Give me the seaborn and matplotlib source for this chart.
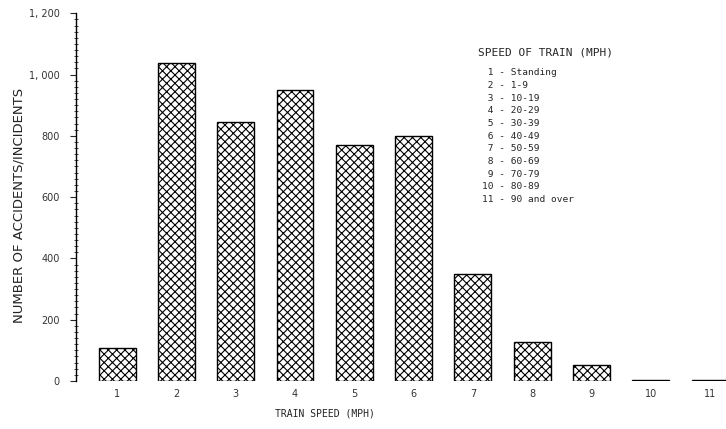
import numpy as np
import pandas as pd
import matplotlib
matplotlib.use('Agg')
import matplotlib.pyplot as plt
from matplotlib.ticker import MultipleLocator, FuncFormatter
import seaborn as sns

sns.set_style('white')
plt.rcParams['font.family'] = ['DejaVu Sans', 'DejaVu Sans Mono']
plt.rcParams['hatch.linewidth'] = 0.8

speed_codes = ['1', '2', '3', '4', '5', '6', '7', '8', '9', '10', '11']
accidents = [108, 1038, 845, 950, 769, 799, 350, 126, 53, 3, 2]
speed_ranges = ['Standing', '1-9', '10-19', '20-29', '30-39', '40-49',
                '50-59', '60-69', '70-79', '80-89', '90 and over']

df = pd.DataFrame({'speed': speed_codes, 'n': accidents})

fig = plt.figure(figsize=(7.26, 4.29), dpi=100)
ax = fig.add_axes([0.105, 0.112, 0.895, 0.857])
sns.barplot(data=df, x='speed', y='n', color='white', edgecolor='black',
            linewidth=1.0, width=0.62, ax=ax)
for p in ax.patches:
    p.set_hatch('xxxx')

ax.set_xlim(-0.69, 10.27)
ax.set_ylim(0, 1200)
for s in ['top', 'right', 'bottom']:
    ax.spines[s].set_visible(False)
ax.spines['left'].set_linewidth(1.0)
ax.spines['left'].set_color('black')

ax.yaxis.set_major_locator(MultipleLocator(200))
ax.yaxis.set_minor_locator(MultipleLocator(20))
ax.yaxis.set_major_formatter(FuncFormatter(lambda v, pos: f'{int(v):,}'.replace(',', ', ')))
ax.tick_params(axis='y', which='major', direction='out', length=4, width=0.8,
               labelsize=7, left=True, pad=8, labelcolor='#333333')
ax.tick_params(axis='y', which='minor', direction='inout', length=3, width=0.6, left=True)
ax.tick_params(axis='x', length=0, labelsize=7, pad=6, labelcolor='#333333')

ax.set_xlabel('')
ax.set_ylabel('')
fig.text(0.026, 0.52, 'NUMBER OF ACCIDENTS/INCIDENTS', fontsize=9.5, color='#222222',
         rotation=90, ha='center', va='center')
fig.text(0.448, 0.035, 'TRAIN SPEED (MPH)', fontsize=7, color='#222222',
         ha='center', va='center', family='DejaVu Sans Mono')

# legend-like key
fig.text(0.658, 0.878, 'SPEED OF TRAIN (MPH)', fontsize=8, va='center', ha='left',
         family='DejaVu Sans Mono')
for i, (c, r) in enumerate(zip(speed_codes, speed_ranges)):
    y = 0.830 - i * 0.0295
    fig.text(0.664, y, f'{c:>2} - {r}', fontsize=6.8, va='center', ha='left',
             family='DejaVu Sans Mono')

fig.savefig('out.png', dpi=100)
